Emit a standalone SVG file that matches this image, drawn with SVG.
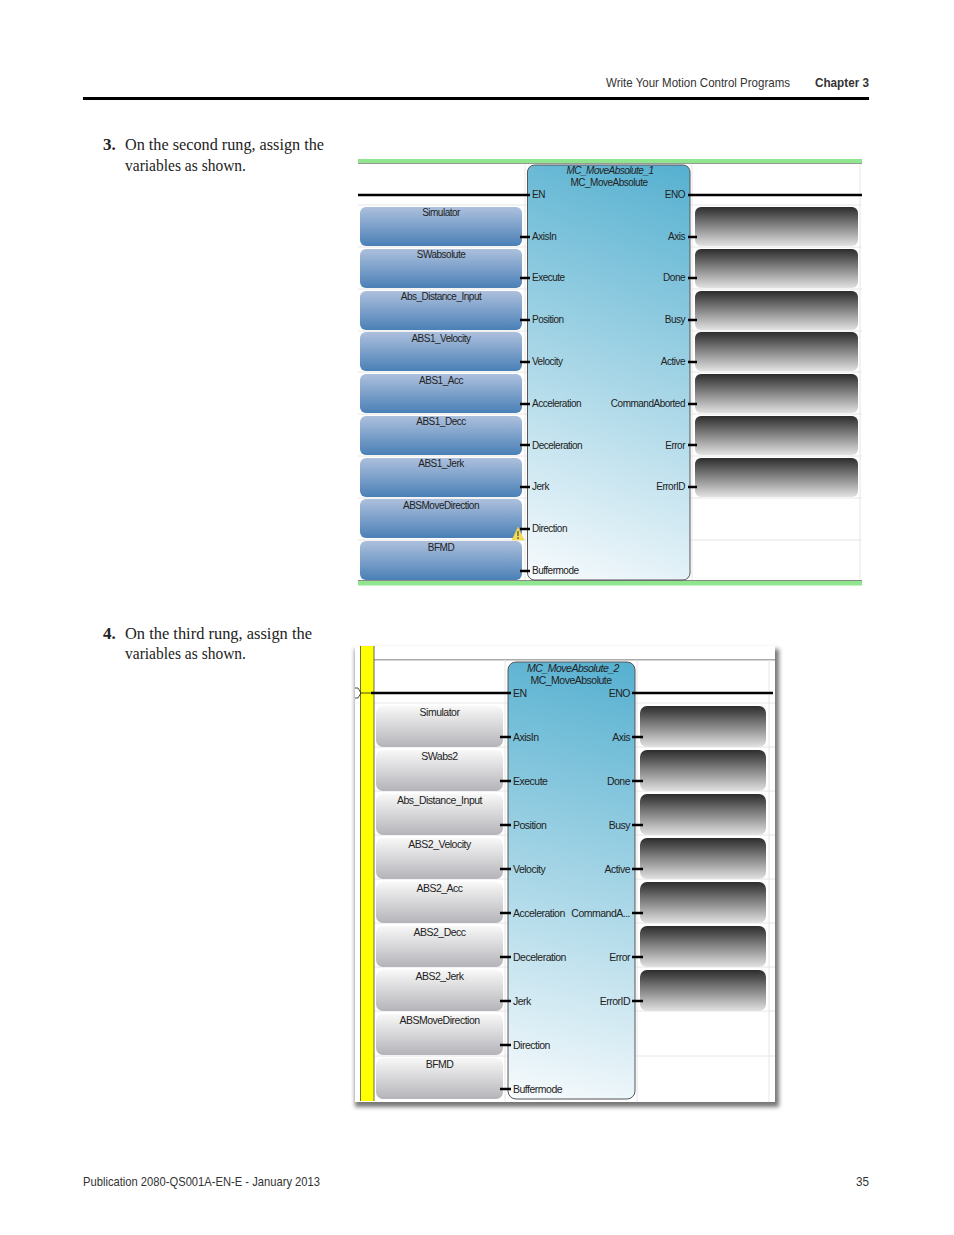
<svg xmlns="http://www.w3.org/2000/svg" width="954" height="1235" viewBox="0 0 954 1235">
<style>
.body{font-family:"Liberation Serif",serif;font-size:17px;fill:#222}
.hd{font-family:"Liberation Sans",sans-serif;font-size:12.8px;fill:#333}
.t{font-family:"Liberation Sans",sans-serif;font-size:10px;letter-spacing:-.5px;fill:#222}
.t2{font-family:"Liberation Sans",sans-serif;font-size:10.5px;letter-spacing:-.5px;fill:#222}
.m{text-anchor:middle}.e{text-anchor:end}
.grid{stroke:#e6e6e6;stroke-width:1;fill:none}
.wire{stroke:#000;stroke-width:2.4;fill:none}
.pin{stroke:#000;stroke-width:2.6;fill:none}
.blue{fill:url(#blue)}.dark{fill:url(#dark)}.light{fill:url(#light)}
.fb{stroke:#555;stroke-width:1}
</style>
<defs>
<linearGradient id="blue" x1="0" y1="0" x2="0" y2="1"><stop offset="0" stop-color="#adc0dd"/><stop offset="1" stop-color="#4a80b6"/></linearGradient>
<linearGradient id="dark" x1="0" y1="0" x2="0" y2="1"><stop offset="0" stop-color="#2c2c2c"/><stop offset="1" stop-color="#e2e2e2"/></linearGradient>
<linearGradient id="light" x1="0" y1="0" x2="0" y2="1"><stop offset="0" stop-color="#f8f8f8"/><stop offset="1" stop-color="#b4b3b8"/></linearGradient>
<linearGradient id="fbg1" gradientUnits="userSpaceOnUse" x1="690" y1="165" x2="540" y2="585"><stop offset="0" stop-color="#55b0d0"/><stop offset="1" stop-color="#f8fbfd"/></linearGradient>
<linearGradient id="fbg2" gradientUnits="userSpaceOnUse" x1="635" y1="662" x2="520" y2="1104"><stop offset="0" stop-color="#55b0d0"/><stop offset="1" stop-color="#f8fbfd"/></linearGradient>
<filter id="blur" x="-5%" y="-5%" width="110%" height="110%"><feGaussianBlur stdDeviation="2"/></filter>
</defs>
<rect width="954" height="1235" fill="#fff"/>
<g id="page-header">
<text class="hd" x="606" y="87" textLength="184" lengthAdjust="spacingAndGlyphs">Write Your Motion Control Programs</text>
<text class="hd" x="815" y="87" font-weight="bold" textLength="54" lengthAdjust="spacingAndGlyphs">Chapter 3</text>
<rect x="83" y="97" width="786" height="3" fill="#000"/>
</g>
<g id="step-3">
<text class="body" x="103" y="150" font-weight="bold">3.</text>
<text class="body" x="125" y="150" textLength="199" lengthAdjust="spacingAndGlyphs">On the second rung, assign the</text>
<text class="body" x="125" y="171" textLength="121" lengthAdjust="spacingAndGlyphs">variables as shown.</text>
</g>
<g id="step-4">
<text class="body" x="103" y="639" font-weight="bold">4.</text>
<text class="body" x="125" y="639" textLength="187" lengthAdjust="spacingAndGlyphs">On the third rung, assign the</text>
<text class="body" x="125" y="659" textLength="121" lengthAdjust="spacingAndGlyphs">variables as shown.</text>
</g>

<g id="rung-2-background">
<rect x="358" y="163" width="504" height="418" fill="#fff"/>
<path class="grid" d="M358 205H862M358 247H862M358 289H862M358 331H862M358 372H862M358 414H862M358 456H862M358 498H862M358 540H862M525 163V581M692 163V581M860 163V581"/>
<rect x="358" y="159" width="504" height="4" fill="#8fe68f"/>
<rect x="358" y="163" width="504" height="1" fill="#999"/>
<rect x="358" y="581" width="504" height="4.500" fill="#8fe68f"/>
<rect x="358" y="580" width="504" height="1" fill="#888"/>
</g>

<g id="rung-2-inputs">
<g id="r2-in-simulator"><rect class="blue" x="360" y="207" width="162" height="39" rx="6"/><text class="t m" x="441" y="216">Simulator</text></g>
<g id="r2-in-swabsolute"><rect class="blue" x="360" y="249" width="162" height="39" rx="6"/><text class="t m" x="441" y="258">SWabsolute</text></g>
<g id="r2-in-distance"><rect class="blue" x="360" y="291" width="162" height="39" rx="6"/><text class="t m" x="441" y="300">Abs_Distance_Input</text></g>
<g id="r2-in-velocity"><rect class="blue" x="360" y="332" width="162" height="39" rx="6"/><text class="t m" x="441" y="342">ABS1_Velocity</text></g>
<g id="r2-in-acc"><rect class="blue" x="360" y="374" width="162" height="39" rx="6"/><text class="t m" x="441" y="384">ABS1_Acc</text></g>
<g id="r2-in-decc"><rect class="blue" x="360" y="416" width="162" height="39" rx="6"/><text class="t m" x="441" y="425">ABS1_Decc</text></g>
<g id="r2-in-jerk"><rect class="blue" x="360" y="458" width="162" height="39" rx="6"/><text class="t m" x="441" y="467">ABS1_Jerk</text></g>
<g id="r2-in-direction"><rect class="blue" x="360" y="499" width="162" height="39" rx="6"/><text class="t m" x="441" y="509">ABSMoveDirection</text></g>
<g id="r2-in-bfmd"><rect class="blue" x="360" y="541" width="162" height="39" rx="6"/><text class="t m" x="441" y="551">BFMD</text></g>
</g>
<g id="rung-2-outputs">
<rect id="r2-out-axis" class="dark" x="695" y="207" width="163" height="39" rx="6"/>
<rect id="r2-out-done" class="dark" x="695" y="249" width="163" height="39" rx="6"/>
<rect id="r2-out-busy" class="dark" x="695" y="291" width="163" height="39" rx="6"/>
<rect id="r2-out-active" class="dark" x="695" y="332" width="163" height="39" rx="6"/>
<rect id="r2-out-aborted" class="dark" x="695" y="374" width="163" height="39" rx="6"/>
<rect id="r2-out-error" class="dark" x="695" y="416" width="163" height="39" rx="6"/>
<rect id="r2-out-errorid" class="dark" x="695" y="458" width="163" height="39" rx="6"/>
</g>
<g id="r2-block">
<rect class="fb" x="527.500" y="165" width="162.500" height="415" rx="7" fill="url(#fbg1)"/>
<text class="t m" x="610" y="174" font-style="italic">MC_MoveAbsolute_1</text>
<text class="t m" x="609" y="186">MC_MoveAbsolute</text>
<text class="t" x="532" y="198">EN</text><text class="t e" x="685" y="198">ENO</text>
<text class="t" x="532" y="240">AxisIn</text><text class="t e" x="685" y="240">Axis</text>
<text class="t" x="532" y="281">Execute</text><text class="t e" x="685" y="281">Done</text>
<text class="t" x="532" y="323">Position</text><text class="t e" x="685" y="323">Busy</text>
<text class="t" x="532" y="365">Velocity</text><text class="t e" x="685" y="365">Active</text>
<text class="t" x="532" y="407">Acceleration</text><text class="t e" x="685" y="407">CommandAborted</text>
<text class="t" x="532" y="449">Deceleration</text><text class="t e" x="685" y="449">Error</text>
<text class="t" x="532" y="490">Jerk</text><text class="t e" x="685" y="490">ErrorID</text>
<text class="t" x="532" y="532">Direction</text>
<text class="t" x="532" y="574">Buffermode</text>
</g>
<g id="r2-warning"><path d="M518 527L524 540H512Z" fill="#f5dc5a" stroke="#e8c93a" stroke-width="0.500"/><path d="M518 531V536M518 537V539" stroke="#333" stroke-width="1"/></g>

<g id="rung-3-background">
<rect x="355" y="649" width="424" height="458" fill="#777" filter="url(#blur)"/>
<rect x="355" y="646" width="420" height="456" fill="#fff"/>
<rect x="374" y="659" width="401" height="1.500" fill="#aaa"/>
<path class="grid" d="M374 703H775M374 747H775M374 791H775M374 835H775M374 879H775M374 923H775M374 967H775M374 1011H775M374 1056H775M505 660V1102M637 660V1102M769 660V1102"/>
<rect x="360.500" y="646" width="13.500" height="455" fill="#ffff00"/>
<path d="M360.500 646V1101M374 646V1101" stroke="#444" stroke-width="0.800" fill="none"/>
</g>
<g id="rung-3-inputs">
<g id="r3-in-simulator"><rect class="light" x="376" y="706" width="127" height="41" rx="7"/><text class="t2 m" x="439.500" y="716">Simulator</text></g>
<g id="r3-in-swabs2"><rect class="light" x="376" y="750" width="127" height="41" rx="7"/><text class="t2 m" x="439.500" y="760">SWabs2</text></g>
<g id="r3-in-distance"><rect class="light" x="376" y="794" width="127" height="41" rx="7"/><text class="t2 m" x="439.500" y="804">Abs_Distance_Input</text></g>
<g id="r3-in-velocity"><rect class="light" x="376" y="838" width="127" height="41" rx="7"/><text class="t2 m" x="439.500" y="848">ABS2_Velocity</text></g>
<g id="r3-in-acc"><rect class="light" x="376" y="882" width="127" height="41" rx="7"/><text class="t2 m" x="439.500" y="892">ABS2_Acc</text></g>
<g id="r3-in-decc"><rect class="light" x="376" y="926" width="127" height="41" rx="7"/><text class="t2 m" x="439.500" y="936">ABS2_Decc</text></g>
<g id="r3-in-jerk"><rect class="light" x="376" y="970" width="127" height="41" rx="7"/><text class="t2 m" x="439.500" y="980">ABS2_Jerk</text></g>
<g id="r3-in-direction"><rect class="light" x="376" y="1014" width="127" height="41" rx="7"/><text class="t2 m" x="439.500" y="1024">ABSMoveDirection</text></g>
<g id="r3-in-bfmd"><rect class="light" x="376" y="1058" width="127" height="41" rx="7"/><text class="t2 m" x="439.500" y="1068">BFMD</text></g>
</g>
<g id="rung-3-outputs">
<rect id="r3-out-axis" class="dark" x="640" y="706" width="126" height="41" rx="7"/>
<rect id="r3-out-done" class="dark" x="640" y="750" width="126" height="41" rx="7"/>
<rect id="r3-out-busy" class="dark" x="640" y="794" width="126" height="41" rx="7"/>
<rect id="r3-out-active" class="dark" x="640" y="838" width="126" height="41" rx="7"/>
<rect id="r3-out-aborted" class="dark" x="640" y="882" width="126" height="41" rx="7"/>
<rect id="r3-out-error" class="dark" x="640" y="926" width="126" height="41" rx="7"/>
<rect id="r3-out-errorid" class="dark" x="640" y="970" width="126" height="41" rx="7"/>
</g>
<g id="r3-block">
<rect class="fb" x="508" y="662" width="127" height="437" rx="8" fill="url(#fbg2)"/>
<text class="t2 m" x="573" y="672" font-style="italic">MC_MoveAbsolute_2</text>
<text class="t2 m" x="571" y="684">MC_MoveAbsolute</text>
<text class="t2" x="513" y="697">EN</text><text class="t2 e" x="630" y="697">ENO</text>
<text class="t2" x="513" y="741">AxisIn</text><text class="t2 e" x="630" y="741">Axis</text>
<text class="t2" x="513" y="785">Execute</text><text class="t2 e" x="630" y="785">Done</text>
<text class="t2" x="513" y="829">Position</text><text class="t2 e" x="630" y="829">Busy</text>
<text class="t2" x="513" y="873">Velocity</text><text class="t2 e" x="630" y="873">Active</text>
<text class="t2" x="513" y="917">Acceleration</text><text class="t2 e" x="630" y="917">CommandA...</text>
<text class="t2" x="513" y="961">Deceleration</text><text class="t2 e" x="630" y="961">Error</text>
<text class="t2" x="513" y="1005">Jerk</text><text class="t2 e" x="630" y="1005">ErrorID</text>
<text class="t2" x="513" y="1049">Direction</text>
<text class="t2" x="513" y="1093">Buffermode</text>
</g>

<g id="connectors">
<path class="wire" d="M358 195H530M688 195H862"/>
<path class="pin" d="M520 237H530M520 278H530M520 320H530M520 362H530M520 404H530M520 445H530M520 487H530M520 529H530M520 571H530"/>
<path class="pin" d="M688 237H697M688 278H697M688 320H697M688 362H697M688 404H697M688 445H697M688 487H697"/>
<path class="wire" d="M371 693H511M632 693H773"/>
<path d="M355 688H358L361 693L358 698H355M361 693H371" fill="none" stroke="#222" stroke-width="0.800"/>
<path class="pin" d="M500 737H511M500 781H511M500 825H511M500 869H511M500 913H511M500 957H511M500 1001H511M500 1045H511M500 1089H511"/>
<path class="pin" d="M632 737H643M632 781H643M632 825H643M632 869H643M632 913H643M632 957H643M632 1001H643"/>
</g>

<g id="page-footer">
<text class="hd" x="83" y="1186" textLength="237" lengthAdjust="spacingAndGlyphs">Publication 2080-QS001A-EN-E - January 2013</text>
<text class="hd" x="856" y="1186" textLength="13" lengthAdjust="spacingAndGlyphs">35</text>
</g>
</svg>
